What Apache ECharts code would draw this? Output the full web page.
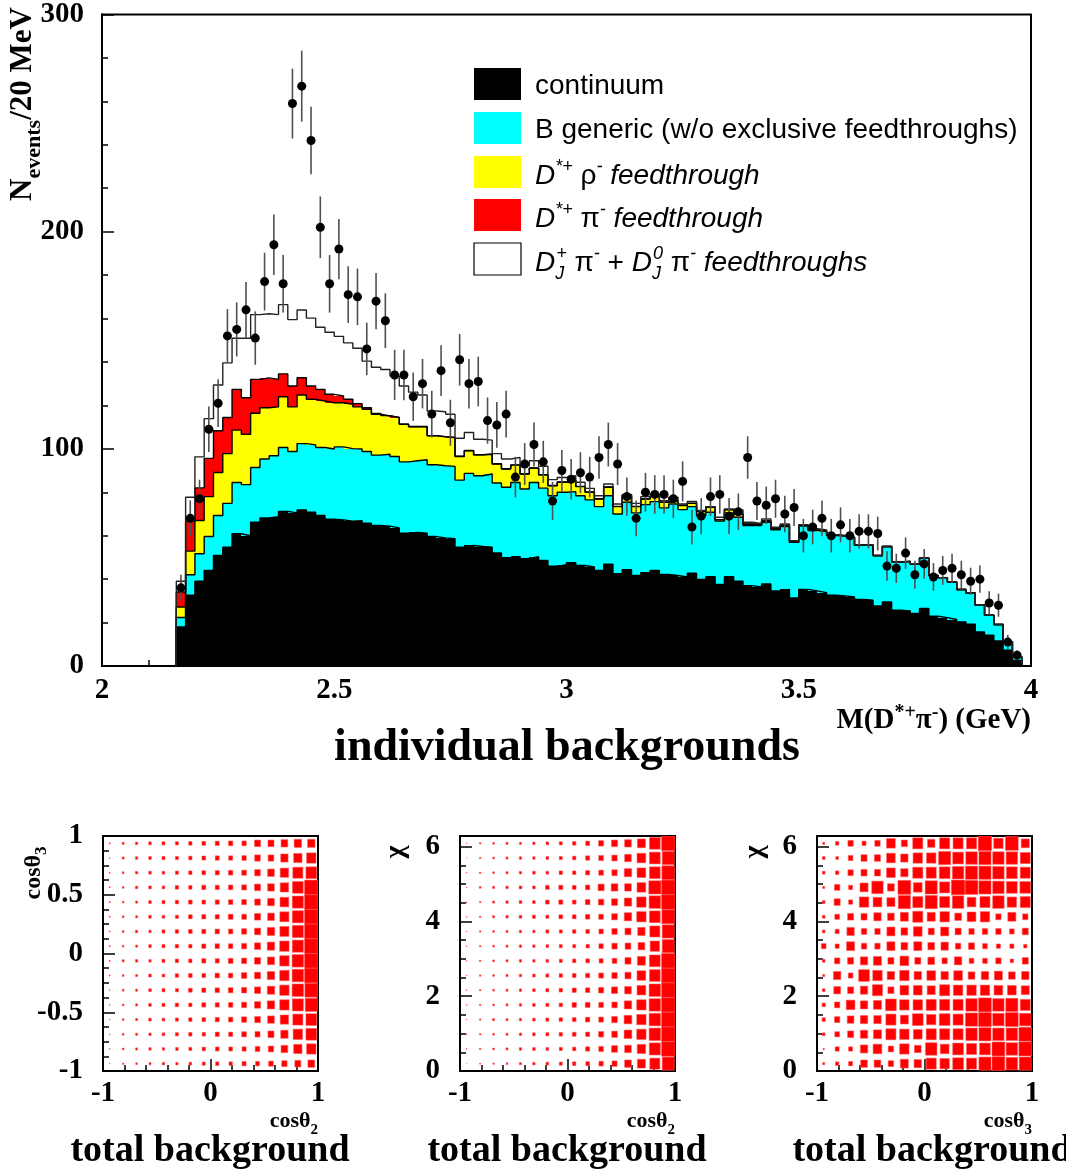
<!DOCTYPE html>
<html>
<head>
<meta charset="utf-8">
<title>individual backgrounds</title>
<script src="https://cdn.jsdelivr.net/npm/echarts@6.0.0/dist/echarts.min.js"></script>
<style>
  html, body { margin: 0; padding: 0; background: #ffffff; overflow: hidden; }
  #chart { width: 1066px; height: 1173px; }
</style>
</head>
<body>
<div id="chart"></div>
<script>
// ---- M(D*+ pi-) spectrum, 20 MeV bins starting at 2.16 GeV ----
const massLow = 2.16;
const binWidth = 0.02;

// individual background components (events / 20 MeV), stacked in this order
const continuum = [
  18.0,32.6,39.0,44.0,50.9,54.7,60.9,60.0,66.2,68.2,
  68.8,71.2,70.5,71.9,70.8,69.3,67.6,67.3,66.7,66.9,
  65.7,64.7,64.4,63.6,61.2,61.5,61.2,59.6,59.0,58.6,
  54.7,55.5,55.0,54.7,52.0,49.9,50.5,49.4,50.3,48.6,
  45.9,46.6,47.6,46.3,45.6,44.0,46.9,42.5,44.3,41.7,
  43.0,44.0,42.2,41.7,41.0,42.7,39.9,41.1,37.6,41.1,
  39.1,37.0,36.4,37.8,34.6,35.3,31.3,35.3,34.6,33.8,
  32.6,32.3,31.8,30.7,30.3,27.7,29.5,25.7,25.4,24.2,
  26.5,22.9,22.3,21.4,20.3,19.3,15.7,14.2,11.5,7.3,
  2.5];
const bGeneric = [
  4.3,9.4,12.7,15.6,18.4,20.2,23.6,23.5,25.2,27.1,
  28.0,29.4,28.3,30.5,31.0,31.3,32.3,33.6,33.4,33.0,
  33.1,32.4,33.1,32.9,32.8,33.0,33.8,33.1,33.2,33.3,
  30.9,33.2,32.6,33.7,32.3,32.4,34.0,32.1,34.2,33.3,
  32.5,33.4,32.7,32.1,30.9,29.4,31.5,27.5,31.1,28.8,
  31.3,31.7,30.6,32.9,31.0,30.7,29.4,29.7,29.1,29.4,
  29.4,27.7,28.3,28.4,28.1,28.9,25.7,29.2,27.8,28.1,
  27.5,27.6,27.3,24.9,25.3,23.1,25.5,22.2,22.8,22.7,
  23.2,18.8,18.4,17.3,14.9,14.3,12.3,9.2,7.6,3.9,
  1.8];
const dstRho = [
  4.9,10.9,15.3,18.4,19.8,22.9,24.1,23.2,25.0,23.6,
  22.5,23.4,20.5,22.4,21.0,21.4,21.3,20.3,20.4,19.4,
  19.4,18.8,17.6,17.9,17.3,15.7,15.2,13.3,13.3,13.3,
  10.9,10.4,9.6,9.1,8.7,8.4,8.0,6.9,6.6,6.1,
  4.6,4.6,5.0,4.2,3.5,3.5,3.9,3.4,3.0,2.9,
  2.6,2.3,2.6,1.5,1.9,1.5,1.8,2.3,0.6,1.4,
  1.4,0.6,0.5,0.6,0.4,0.5,0.3,0.3,0.4,0.4,
  0.2,0.1,0.1,0.1,0.1,0.1,0,0,0,0,
  0,0,0,0,0,0,0,0,0,0,
  0];
const dstPi = [
  6.9,13.8,15.0,17.6,19.2,16.6,18.8,16.8,15.6,13.8,
  12.7,10.5,9.6,7.9,6.1,5.4,3.9,3.1,2.3,1.5,
  0.7,0.4,0.2,0.1,0.1,0.1,0.1,0.1,0.1,0.1,
  0.1,0.1,0.1,0.1,0.1,0.1,0.1,0.1,0.1,0.1,
  0.1,0.1,0.1,0.1,0.1,0.1,0.1,0.1,0.1,0.1,
  0.1,0.1,0.1,0.1,0.1,0.1,0.1,0.1,0.1,0.1,
  0.1,0.1,0.1,0.1,0.1,0.1,0,0,0,0,
  0,0,0,0,0,0,0,0,0,0,
  0,0,0,0,0,0,0,0,0,0,
  0];
const djPi = [
  4.9,11.0,14.3,18.3,21.1,25.2,23.5,27.4,29.8,29.5,
  29.8,31.9,30.6,31.2,31.3,28.6,28.6,27.5,26.0,25.5,
  21.5,21.3,21.2,19.0,17.5,15.8,14.5,11.3,11.5,10.6,
  8.3,8.3,7.1,6.4,4.7,4.5,3.4,3.7,3.3,3.9,
  2.7,2.1,2.2,1.9,1.7,1.4,1.4,1.1,0.5,1.4,
  1.0,1.1,0.6,1.5,0.6,0.8,0.4,0.2,1.1,0.3,
  1.9,0.8,0.4,0.8,0.7,0.6,0.4,0.3,0.4,0.4,
  0.1,0.1,0.1,0.1,0.1,0,0,0,0,0,
  0,0,0,0,0,0,0,0,0,0,
  0];

// observed events per bin
const dataCounts = [
  36,68,77,109,121,152,155,164,151,177,
  194,176,259,267,242,202,176,192,171,170,
  146,168,159,134,134,124,130,116,136,112,
  141,130,131,113,111,116,87,93,102,94,
  76,90,86,89,87,96,102,93,78,68,
  80,79,79,77,85,64,69,78,79,69,
  71,96,76,74,77,70,73,60,64,68,
  60,65,60,62,62,61,46,45,52,42,
  47,41,44,45,42,39,40,29,28,11,
  5];

const massTicks = [2, 2.5, 3, 3.5, 4];
const countTicks = [0, 100, 200, 300];

// ---- total background, angular distributions (16 x 16 cells, top row first) ----
const boxCos2Cos3 = [
  [3,6,7,8,9,9,10,11,12,13,13,18,18,20,22,22],
  [2,6,7,8,9,9,10,11,12,12,13,17,17,22,25,28],
  [3,5,7,8,8,9,10,11,12,13,14,17,20,25,30,32],
  [3,5,7,8,8,10,10,12,12,13,14,18,20,25,32,40],
  [3,5,6,8,9,10,11,11,12,13,14,17,20,26,33,40],
  [3,5,6,8,8,9,11,12,12,14,14,18,20,27,33,40],
  [3,5,7,7,9,10,11,12,13,13,15,18,22,27,33,40],
  [3,5,6,8,9,10,10,12,13,13,15,18,22,28,33,40],
  [3,6,7,7,9,10,10,12,12,14,15,18,21,28,34,40],
  [3,5,6,8,8,10,11,11,13,13,16,18,22,28,34,40],
  [2,5,6,8,9,9,11,12,13,14,15,18,22,28,34,38],
  [2,5,6,8,9,10,10,12,12,13,15,18,22,28,33,36],
  [2,5,6,8,8,9,10,11,12,13,15,17,20,25,30,32],
  [2,5,6,7,8,9,10,10,12,12,14,15,18,22,28,32],
  [2,5,6,7,7,8,9,10,11,11,12,14,16,20,25,28],
  [2,4,5,6,7,7,8,9,10,10,12,12,14,16,18,20]
];
const boxCos2Chi = [
  [2,4,5,6,6,7,8,9,10,12,15,18,20,24,32,40],
  [1,4,5,6,7,7,8,9,10,12,14,16,20,26,32,36],
  [2,4,5,6,7,8,8,10,10,12,14,16,22,26,32,38],
  [2,5,6,7,8,8,11,12,11,13,18,20,20,26,36,40],
  [2,4,6,7,8,8,11,12,11,14,16,18,22,28,34,40],
  [2,4,6,7,8,9,9,11,11,13,14,17,22,28,32,38],
  [2,4,5,6,7,7,9,9,10,11,13,16,18,22,30,36],
  [2,4,5,6,7,7,8,9,9,10,13,16,17,20,28,36],
  [2,4,5,6,7,7,8,9,10,11,12,14,18,24,32,40],
  [2,4,5,6,7,8,9,10,11,12,14,16,18,26,32,40],
  [2,4,5,6,7,8,9,10,12,13,15,18,20,26,34,40],
  [2,4,5,6,7,8,9,10,13,14,14,16,22,28,34,40],
  [2,4,6,6,7,8,9,10,11,13,14,17,23,28,34,40],
  [2,4,5,6,7,8,9,10,11,12,15,17,23,28,34,40],
  [2,4,5,6,7,8,8,9,10,12,14,18,20,25,33,40],
  [1,3,4,5,6,7,8,9,10,11,13,15,20,24,30,36]
];
const boxCos3Chi = [
  [6,10,16,12,16,26,18,30,22,30,30,30,40,28,38,24],
  [8,8,14,18,18,26,22,28,28,36,32,34,36,34,34,30],
  [8,10,16,18,18,26,22,30,30,32,34,36,36,34,32,30],
  [6,16,12,24,34,20,38,26,36,30,40,38,36,34,32,32],
  [8,18,12,28,26,24,36,30,36,30,34,26,30,34,28,30],
  [8,14,18,18,22,20,24,30,24,28,20,26,28,16,24,16],
  [8,12,22,16,16,24,20,26,18,24,18,16,16,16,14,18],
  [14,12,24,16,16,24,20,24,20,22,16,18,14,12,12,10],
  [8,16,18,22,24,18,26,18,20,16,22,14,14,16,10,18],
  [6,22,14,32,28,22,28,22,26,22,26,20,22,24,20,22],
  [8,20,18,22,30,18,26,26,24,30,28,28,28,26,26,24],
  [10,16,26,22,24,32,28,28,30,30,30,34,38,34,36,30],
  [10,16,20,22,22,30,24,32,28,32,30,36,38,34,38,34],
  [8,14,18,22,24,30,28,26,30,30,30,34,36,34,34,38],
  [4,12,12,22,26,16,28,20,34,26,32,30,32,38,34,38],
  [6,10,12,20,20,16,24,22,30,28,32,30,36,38,34,36]
];
const boxFull = 40;        // content that fills a whole cell
const TWO_PI = 2 * Math.PI;

// ---- fonts ----
const SERIF = 'Liberation Serif';
const SANS = 'Liberation Sans';

// ---- stacked layers ----
const layers = [
  { name: 'continuum', values: continuum, color: '#000000' },
  { name: 'B generic (w/o exclusive feedthroughs)', values: bGeneric, color: '#00ffff' },
  { name: 'D*+ rho- feedthrough', values: dstRho, color: '#ffff00' },
  { name: 'D*+ pi- feedthrough', values: dstPi, color: '#ff0000' },
  { name: 'DJ pi- feedthroughs', values: djPi, color: '#ffffff' }
];
const nBins = continuum.length;
const binLo = k => +(massLow + k * binWidth).toFixed(4);
const binHi = k => +(massLow + (k + 1) * binWidth).toFixed(4);

const cumBase = new Array(nBins).fill(0);
const layerSeries = [];
const outlineSeries = [];
layers.forEach((layer, li) => {
  const rects = [];
  const steps = [[binLo(0), 0]];
  for (let k = 0; k < nBins; k++) {
    const base = cumBase[k];
    const top = base + layer.values[k];
    rects.push([binLo(k), binHi(k), base, top]);
    steps.push([binLo(k), top]);
    cumBase[k] = top;
  }
  steps.push([binHi(nBins - 1), cumBase[nBins - 1]]);
  steps.push([binHi(nBins - 1), 0]);
  layerSeries.push({
    type: 'custom', name: layer.name, xAxisIndex: 0, yAxisIndex: 0, z: 2 + li * 0.01,
    clip: true, silent: true,
    encode: { x: [0, 1], y: [2, 3] },
    data: rects,
    renderItem: (params, api) => {
      // pixel-snapped so neighbouring bins and stacked layers meet without seams
      const a = api.coord([api.value(0), api.value(3)]);
      const b = api.coord([api.value(1), api.value(2)]);
      const x0 = Math.round(a[0]), x1 = Math.round(b[0]);
      const y0 = Math.round(a[1]), y1 = Math.round(b[1]);
      return {
        type: 'rect',
        shape: { x: x0, y: y0, width: x1 - x0, height: y1 - y0 },
        style: { fill: layer.color }
      };
    }
  });
  outlineSeries.push({
    type: 'line', xAxisIndex: 0, yAxisIndex: 0, step: 'end', z: 4, silent: true,
    symbol: 'none', data: steps,
    lineStyle: { color: li === layers.length - 1 ? '#222222' : '#000000', width: 1.4 }
  });
});

// data points with Poisson error bars
const points = dataCounts.map((n, k) => [+(massLow + (k + 0.5) * binWidth).toFixed(4), n, Math.sqrt(n)]);
const dataSeries = {
  type: 'custom', xAxisIndex: 0, yAxisIndex: 0, z: 6, silent: true, clip: false,
  encode: { x: 0, y: 1 },
  data: points,
  renderItem: (params, api) => {
    const x = api.value(0), n = api.value(1), e = api.value(2);
    const c = api.coord([x, n]);
    const lo = api.coord([x, n - e]);
    const hi = api.coord([x, n + e]);
    return {
      type: 'group',
      children: [
        { type: 'line', shape: { x1: c[0], y1: lo[1], x2: c[0], y2: hi[1] },
          style: { stroke: '#505050', lineWidth: 1.6 } },
        { type: 'circle', shape: { cx: c[0], cy: c[1], r: 4.5 }, style: { fill: '#000000' } }
      ]
    };
  }
};

// box panels
function boxSeries(rows, gridIdx, yMin, yMax) {
  const nRows = rows.length, nCols = rows[0].length;
  const dx = 2 / nCols, dy = (yMax - yMin) / nRows;
  const cells = [];
  rows.forEach((row, r) => row.forEach((v, c) => {
    cells.push([-1 + (c + 0.5) * dx, yMax - (r + 0.5) * dy, v]);
  }));
  return {
    type: 'custom', xAxisIndex: gridIdx, yAxisIndex: gridIdx, z: 3, silent: true, clip: true,
    encode: { x: 0, y: 1 },
    data: cells,
    renderItem: (params, api) => {
      const c = api.coord([api.value(0), api.value(1)]);
      const s = api.size([dx, dy]);
      const f = Math.min(api.value(2) / boxFull, 1);
      const w = s[0] * f, h = s[1] * f;
      return {
        type: 'rect',
        shape: { x: c[0] - w / 2, y: c[1] - h / 2, width: w, height: h },
        style: { fill: '#ff0000', stroke: 'rgba(255,90,90,0.55)', lineWidth: 1 }
      };
    }
  };
}

// ---- axes ----
const labelStyle = { fontFamily: SERIF, fontWeight: 'bold', fontSize: 29, color: '#000' };
function valueAxis(gridIdx, min, max, interval, minorSplit, opts) {
  return Object.assign({
    type: 'value', gridIndex: gridIdx, min, max, interval,
    axisLine: { show: true, onZero: false, lineStyle: { color: '#000', width: 2 } },
    axisTick: { show: true, inside: true, length: 12, lineStyle: { color: '#000', width: 1.5 } },
    minorTick: { show: true, splitNumber: minorSplit, length: 6, lineStyle: { color: '#000', width: 1.5 } },
    splitLine: { show: false },
    minorSplitLine: { show: false },
    axisLabel: Object.assign({ margin: 10 }, labelStyle)
  }, opts || {});
}
const onlyTicks = ticks => v => (ticks.some(t => Math.abs(t - v) < 1e-6) ? String(v) : '');

const panelGrid = left => ({ left, top: 836, width: 215, height: 235, show: true,
  borderColor: '#000', borderWidth: 2, backgroundColor: 'transparent' });

// ---- rich text pieces ----
const legendRich = {
  n:   { fontFamily: SANS, fontSize: 28, fill: '#000', verticalAlign: 'bottom', padding: [0, 0, 6, 0] },
  i:   { fontFamily: SANS, fontSize: 28, fontStyle: 'italic', fill: '#000', verticalAlign: 'bottom', padding: [0, 0, 6, 0] },
  sup: { fontFamily: SANS, fontSize: 18, fontStyle: 'italic', fill: '#000', verticalAlign: 'bottom', padding: [0, 0, 20, 0] },
  sub: { fontFamily: SANS, fontSize: 18, fontStyle: 'italic', fill: '#000', verticalAlign: 'bottom', padding: [0, 0, 0, 0], width: 1 }
};
const serifRich = size => ({
  b:   { fontFamily: SERIF, fontWeight: 'bold', fontSize: size, fill: '#000', verticalAlign: 'bottom', padding: [0, 0, Math.round(size * 0.22), 0] },
  sup: { fontFamily: SERIF, fontWeight: 'bold', fontSize: Math.round(size * 0.7), fill: '#000', verticalAlign: 'bottom', padding: [0, 0, Math.round(size * 0.62), 0] },
  sub: { fontFamily: SERIF, fontWeight: 'bold', fontSize: Math.round(size * 0.7), fill: '#000', verticalAlign: 'bottom', padding: [0, 0, 0, 0] }
});
function txt(x, y, text, rich, opts) {
  return Object.assign({
    type: 'text', x, y, silent: true,
    style: Object.assign({ text, rich, fill: '#000', align: 'left', verticalAlign: 'middle' }, (opts && opts.style) || {})
  }, opts && opts.rotation ? { rotation: opts.rotation } : {});
}

const legendTexts = [
  '{n|continuum}',
  '{n|B generic (w/o exclusive feedthroughs)}',
  '{i|D}{sup|*+}{n| ρ}{sup|-}{i| feedthrough}',
  '{i|D}{sup|*+}{n| π}{sup|-}{i| feedthrough}',
  '{i|D}{sub|J}{sup|+}{n| π}{sup|-}{n| + }{i|D}{sub|J}{sup|0}{n| π}{sup|-}{i| feedthroughs}'
];
const legendTops = [68, 112, 156, 199, 243];

const graphic = [];
layers.forEach((layer, i) => {
  graphic.push({
    type: 'rect', silent: true,
    shape: { x: 474, y: legendTops[i], width: 47, height: 32 },
    style: { fill: layer.color, stroke: '#000', lineWidth: i === layers.length - 1 ? 1.2 : 0 }
  });
  graphic.push(txt(535, legendTops[i] + 21, legendTexts[i], legendRich));
});

const rTitle = serifRich(31), rMass = serifRich(29), r24 = serifRich(24), r22 = serifRich(22), r28 = serifRich(28);
graphic.push(txt(26, 104, '{b|N}{sub|events}{b|/20 MeV}', rTitle, { rotation: Math.PI / 2, style: { align: 'center' } }));
graphic.push(txt(1031, 722, '{b|M(D}{sup|*+}{b|π}{sup|-}{b|) (GeV)}', rMass, { style: { align: 'right' } }));
graphic.push({
  type: 'text', x: 567, y: 748, silent: true,
  style: { text: 'individual backgrounds', fill: '#000', align: 'center', verticalAlign: 'middle',
    fontFamily: SERIF, fontWeight: 'bold', fontSize: 46 }
});
[210, 567, 932].forEach(cx => graphic.push({
  type: 'text', x: cx, y: 1151, silent: true,
  style: { text: 'total background', fill: '#000', align: 'center', verticalAlign: 'middle',
    fontFamily: SERIF, fontWeight: 'bold', fontSize: 38 }
}));
graphic.push(txt(318, 1124, '{b|cosθ}{sub|2}', r22, { style: { align: 'right' } }));
graphic.push(txt(675, 1124, '{b|cosθ}{sub|2}', r22, { style: { align: 'right' } }));
graphic.push(txt(1032, 1124, '{b|cosθ}{sub|3}', r22, { style: { align: 'right' } }));
graphic.push(txt(36, 873, '{b|cosθ}{sub|3}', r24, { rotation: Math.PI / 2, style: { align: 'center' } }));
graphic.push(txt(399, 852, '{b|χ}', r28, { rotation: Math.PI / 2, style: { align: 'center' } }));
graphic.push(txt(758, 852, '{b|χ}', r28, { rotation: Math.PI / 2, style: { align: 'center' } }));

const option = {
  animation: false,
  backgroundColor: '#ffffff',
  grid: [
    { left: 102, top: 12, width: 929, height: 654, show: true, borderColor: '#000', borderWidth: 2, backgroundColor: 'transparent' },
    panelGrid(103), panelGrid(460), panelGrid(817)
  ],
  xAxis: [
    valueAxis(0, 2, 4, 0.5, 5, { axisLabel: Object.assign({ margin: 10, formatter: onlyTicks(massTicks) }, labelStyle) }),
    valueAxis(1, -1, 1, 1, 5, { axisLabel: Object.assign({ margin: 8 }, labelStyle) }),
    valueAxis(2, -1, 1, 1, 5, { axisLabel: Object.assign({ margin: 8 }, labelStyle) }),
    valueAxis(3, -1, 1, 1, 5, { axisLabel: Object.assign({ margin: 8 }, labelStyle) })
  ],
  yAxis: [
    valueAxis(0, 0, 300, 100, 5, { axisLabel: Object.assign({ margin: 18, formatter: onlyTicks(countTicks) }, labelStyle) }),
    valueAxis(1, -1, 1, 0.5, 4, { axisLabel: Object.assign({ margin: 20 }, labelStyle) }),
    valueAxis(2, 0, TWO_PI, 2, 4, { axisLabel: Object.assign({ margin: 20, formatter: onlyTicks([0, 2, 4, 6]) }, labelStyle) }),
    valueAxis(3, 0, TWO_PI, 2, 4, { axisLabel: Object.assign({ margin: 20, formatter: onlyTicks([0, 2, 4, 6]) }, labelStyle) })
  ],
  series: [
    ...layerSeries,
    ...outlineSeries,
    dataSeries,
    boxSeries(boxCos2Cos3, 1, -1, 1),
    boxSeries(boxCos2Chi, 2, 0, TWO_PI),
    boxSeries(boxCos3Chi, 3, 0, TWO_PI)
  ],
  graphic
};

const chart = echarts.init(document.getElementById('chart'), null, { renderer: 'canvas', width: 1066, height: 1173 });
chart.setOption(option);
</script>
</body>
</html>
